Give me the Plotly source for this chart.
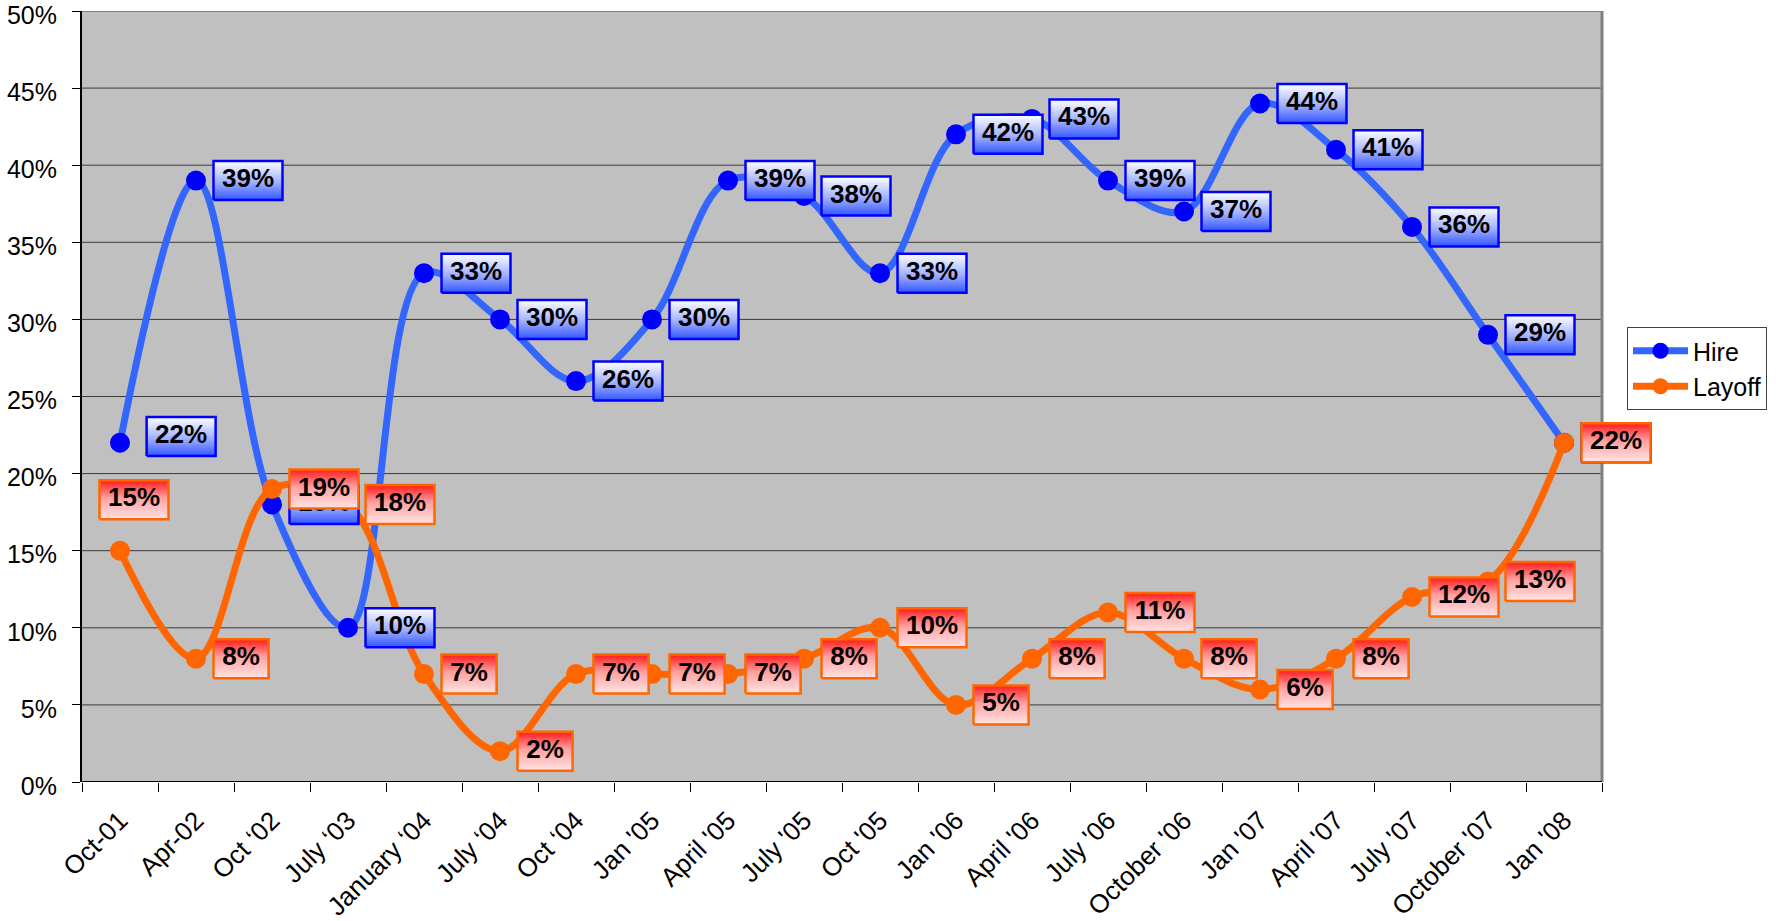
import plotly.graph_objects as go

# ---------------- data ----------------
categories = ["Oct-01", "Apr-02", "Oct \u201802", "July \u201803", "January \u201804",
              "July \u201804", "Oct \u201804", "Jan '05", "April '05", "July '05",
              "Oct '05", "Jan '06", "April '06", "July '06", "October '06",
              "Jan '07", "April '07", "July '07", "October '07", "Jan '08"]
hire = [22, 39, 18, 10, 33, 30, 26, 30, 39, 38, 33, 42, 43, 39, 37, 44, 41, 36, 29, 22]
layoff = [15, 8, 19, 18, 7, 2, 7, 7, 7, 8, 10, 5, 8, 11, 8, 6, 8, 12, 13, 22]
y_ticks = [0, 5, 10, 15, 20, 25, 30, 35, 40, 45, 50]

# label placement overrides (series, index) -> (dx in category units, dy in %)
label_shift = {("Hire", 0): (0.12, 0.4), ("Layoff", 0): (-0.5, 3.3)}

# ---------------- geometry helpers ----------------
W, H = 1776, 921
ML, MR, MT, MB = 82, 60, 11, 139
X_RANGE = [-0.5, 21.0]
PX_X = (W - ML - MR) / (X_RANGE[1] - X_RANGE[0])
PX_Y = (H - MT - MB) / 50.0
FONT = "Liberation Sans, Arial, sans-serif"

fig = go.Figure()
x = list(range(len(categories)))

series = [
    ("Hire", hire, "#3366FF", "#0000FF", "#0000FF",
     [[0, "#3355FF"], [0.45, "#9FAFFF"], [1, "#FFFFFF"]]),
    ("Layoff", layoff, "#FF6600", "#FF6600", "#FF6600",
     [[0, "#FFE4E4"], [0.55, "#FFA0A0"], [1, "#FF1A1A"]]),
]

for name, vals, lc, mc, bc, cs in series:
    fig.add_trace(go.Scatter(
        x=x, y=vals, name=name, mode="lines+markers",
        line=dict(color=lc, width=7, shape="spline", smoothing=1),
        marker=dict(color=mc, size=20),
        hoverinfo="skip", cliponaxis=False,
    ))

half_h = 19.5 / PX_Y
for name, vals, lc, mc, bc, cs in series:
    tx, ty, tt = [], [], []
    for i, v in enumerate(vals):
        txt = f"{v}%"
        wpx = 19 + 13.9 * (len(txt) - 1) + 22.2
        wu = wpx / PX_X
        dx, dy = label_shift.get((name, i), (0.0, 0.0))
        x0 = i + 17.5 / PX_X + dx
        x1 = x0 + wu
        yc = v + dy
        y0, y1 = yc - half_h, yc + half_h
        fig.add_trace(go.Scatter(
            x=[x0, x1, x1, x0, x0], y=[y0, y0, y1, y1, y0],
            mode="lines", fill="toself",
            fillgradient=dict(type="vertical", colorscale=cs, start=y0, stop=y1),
            line=dict(color=bc, width=2.5),
            showlegend=False, hoverinfo="skip",
        ))
        tx.append((x0 + x1) / 2)
        ty.append(yc)
        tt.append(f"<b>{txt}</b>")
    fig.add_trace(go.Scatter(
        x=tx, y=ty, text=tt, mode="text", textposition="middle center",
        textfont=dict(family=FONT, size=26, color="black"),
        showlegend=False, hoverinfo="skip", cliponaxis=False,
    ))

shapes = [
    dict(type="rect", xref="x", yref="y", x0=-0.5, x1=len(categories) - 0.5, y0=0, y1=50,
         fillcolor="#C0C0C0", line=dict(width=0), layer="below"),
]
for yt in y_ticks[1:-1]:
    shapes.append(dict(type="line", xref="x", yref="y", x0=-0.5, x1=len(categories) - 0.5,
                       y0=yt, y1=yt, line=dict(color="#3A3A3A", width=1), layer="below"))
shapes += [
    dict(type="line", xref="x", yref="y", x0=-0.5, x1=len(categories) - 0.5, y0=50, y1=50,
         line=dict(color="#808080", width=2), layer="below"),
    dict(type="line", xref="x", yref="y", x0=len(categories) - 0.5, x1=len(categories) - 0.5,
         y0=0, y1=50, line=dict(color="#808080", width=3), layer="below"),
    dict(type="line", xref="x", yref="y", x0=-0.5, x1=len(categories) - 0.5, y0=0, y1=0,
         line=dict(color="black", width=2), layer="below"),
]

fig.update_layout(
    width=W, height=H,
    margin=dict(l=ML, r=MR, t=MT, b=MB, pad=0, autoexpand=False),
    paper_bgcolor="white", plot_bgcolor="white",
    font=dict(family=FONT, color="black"),
    shapes=shapes,
    showlegend=True,
    legend=dict(x=(1627 - ML) / (W - ML - MR), y=(H - MB - 327) / (H - MT - MB),
                xanchor="left", yanchor="top",
                bgcolor="white", bordercolor="#404040", borderwidth=1,
                font=dict(family=FONT, size=25, color="black"),
                itemwidth=55, tracegroupgap=0),
    xaxis=dict(range=X_RANGE, tickmode="array", tickvals=x, ticktext=categories,
               tickangle=-45, ticks="", showgrid=False, zeroline=False, showline=False,
               automargin=False,
               tickfont=dict(family=FONT, size=26, color="black"),
               ticklabelstandoff=17, ticklabeloverflow="allow",
               minor=dict(tickmode="array", tickvals=[i - 0.5 for i in range(len(categories) + 1)],
                          ticks="outside", ticklen=9, tickwidth=1, tickcolor="black",
                          showgrid=False)),
    yaxis=dict(range=[0, 50], tickmode="array", tickvals=y_ticks,
               ticktext=[f"{t}%" for t in y_ticks],
               ticks="outside", ticklen=8, tickwidth=1, tickcolor="black",
               showgrid=False, zeroline=False, showline=True, linecolor="black", linewidth=2,
               automargin=False,
               tickfont=dict(family=FONT, size=25, color="black"),
               ticklabelstandoff=10, ticklabelshift=4, ticklabeloverflow="allow"),
)

fig.write_html("out.html", config={"displayModeBar": False},
               post_script="document.body.style.margin='0';document.body.style.overflow='hidden';")
